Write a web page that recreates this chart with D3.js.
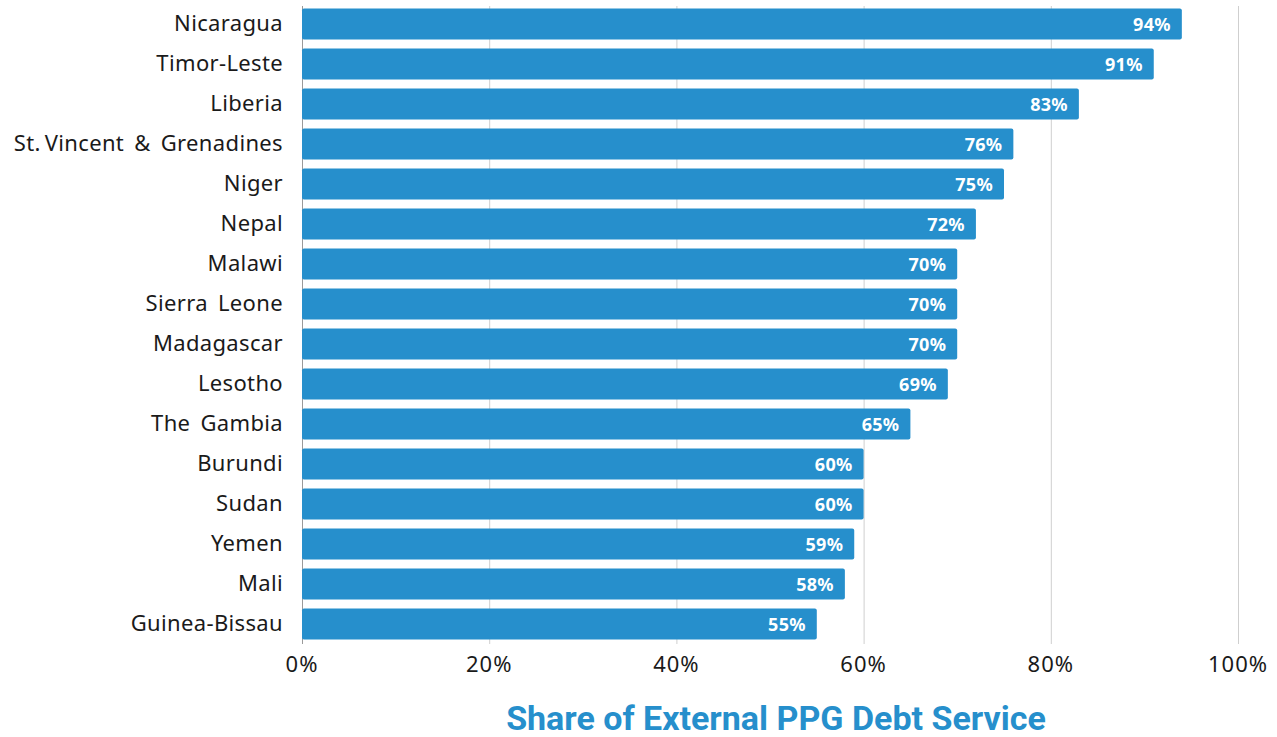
<!DOCTYPE html>
<html lang="en">
<head>
<meta charset="UTF-8">
<title>Share of External PPG Debt Service</title>
<script src="https://d3js.org/d3.v7.min.js"></script>
<style>
    body { margin: 0; background: #fff; }
    svg { font-family: "Noto Sans", "Open Sans", sans-serif; }
    .cat { font-size: 22px; fill: #1a1a1a; letter-spacing: 0.35px; word-spacing: 4px; }
    .tick-label { font-size: 22px; fill: #1a1a1a; letter-spacing: 1px; }
    .val { font-size: 18px; font-weight: bold; fill: #fff; letter-spacing: 0.3px; }
    .title { font-family: Roboto, sans-serif; font-size: 34px; font-weight: bold; fill: #268fcc; }
</style>
</head>
<body>
<svg id="chart" width="1277" height="737"></svg>
<script>
const countries = ["Nicaragua", "Timor-Leste", "Liberia", "St.\u2009Vincent & Grenadines", "Niger", "Nepal",
    "Malawi", "Sierra Leone", "Madagascar", "Lesotho", "The Gambia", "Burundi", "Sudan", "Yemen", "Mali", "Guinea-Bissau"];
const shares = [94, 91, 83, 76, 75, 72, 70, 70, 70, 69, 65, 60, 60, 59, 58, 55];
const ticks = [0, 20, 40, 60, 80, 100];

const svg = d3.select("#chart");
const plotLeft = 302, plotRight = 1238, plotTop = 4, plotBottom = 644;

const x = d3.scaleLinear().domain([0, 100]).range([plotLeft, plotRight]);
const y = d3.scaleBand().domain(countries).range([plotTop, plotBottom]).paddingInner(0.22).paddingOuter(0.11);

// gridlines
svg.append("g")
    .selectAll("line")
    .data(ticks)
    .join("line")
    .attr("x1", d => x(d) + 0.5).attr("x2", d => x(d) + 0.5)
    .attr("y1", 6).attr("y2", plotBottom)
    .attr("stroke", d => d === 0 ? "#9a9a9a" : "#cfcfcf");

// bars
svg.append("g")
    .selectAll("rect")
    .data(shares)
    .join("rect")
    .attr("x", x(0))
    .attr("y", (d, i) => y(countries[i]))
    .attr("width", d => x(d) - x(0))
    .attr("height", y.bandwidth())
    .attr("rx", 2)
    .attr("fill", "#268fcc");

// value labels
svg.append("g")
    .selectAll("text")
    .data(shares)
    .join("text")
    .attr("class", "val")
    .attr("x", d => x(d) - 11)
    .attr("y", (d, i) => y(countries[i]) + y.bandwidth() / 2)
    .attr("dy", "0.38em")
    .attr("text-anchor", "end")
    .text(d => d + "%");

// category labels
svg.append("g")
    .selectAll("text")
    .data(countries)
    .join("text")
    .attr("class", "cat")
    .attr("x", 283)
    .attr("y", d => y(d) + y.bandwidth() / 2)
    .attr("dy", "0.3em")
    .attr("text-anchor", "end")
    .text(d => d);

// x tick labels
svg.append("g")
    .selectAll("text")
    .data(ticks)
    .join("text")
    .attr("class", "tick-label")
    .attr("x", d => x(d))
    .attr("y", 672)
    .attr("text-anchor", "middle")
    .text(d => d + "%");

svg.append("text")
    .attr("class", "title")
    .attr("x", 776)
    .attr("y", 730)
    .attr("text-anchor", "middle")
    .text("Share of External PPG Debt Service");
</script>
</body>
</html>
